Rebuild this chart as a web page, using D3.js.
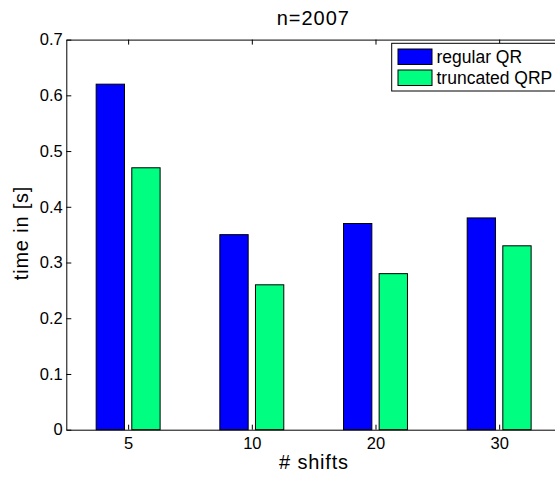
<!DOCTYPE html>
<html><head><meta charset="utf-8">
<script src="https://cdn.jsdelivr.net/npm/d3@7"></script>
<style>body{margin:0;background:#fff}svg{display:block;font-family:"Liberation Sans",Arial,sans-serif}</style>
</head><body><svg id="c" width="555" height="479"></svg>
<script>
const categories = ["5","10","20","30"];
const seriesNames = ["regular QR","truncated QRP"];
const regularQR = [0.62,0.35,0.37,0.38];
const truncatedQRP = [0.47,0.26,0.28,0.33];
const yTicks = [0,0.1,0.2,0.3,0.4,0.5,0.6,0.7];
const colors = ["#0000ff","#00ff80"];

const svg = d3.select("#c");
const L=66.3, R=561, T=39.6, B=429.7;
const x = d3.scaleLinear().domain([0.5,4.5]).range([L,R]);
const y = d3.scaleLinear().domain([0,0.7]).range([B,T]);
const series=[regularQR,truncatedQRP];
const off=[-0.144,0.144], bw=0.229;

series.forEach((vals,s)=>{
  svg.append("g").selectAll("rect").data(vals).join("rect")
    .attr("x",(d,i)=>x(i+1+off[s]-bw/2))
    .attr("width",x(bw)-x(0))
    .attr("y",d=>y(d)).attr("height",d=>y(0)-y(d))
    .attr("fill",colors[s]).attr("stroke","#000").attr("stroke-width",1);
});

const fmt=d=>d===0?"0":d3.format(".1f")(d);
const xa=svg.append("g").attr("transform",`translate(0,${B})`)
  .call(d3.axisBottom(x).tickValues([1,2,3,4]).tickFormat((d,i)=>categories[i]).tickSizeInner(-5).tickSizeOuter(0).tickPadding(7.5));
const xt=svg.append("g").attr("transform",`translate(0,${T})`)
  .call(d3.axisTop(x).tickValues([1,2,3,4]).tickFormat("").tickSizeInner(-5).tickSizeOuter(0));
const ya=svg.append("g").attr("transform",`translate(${L},0)`)
  .call(d3.axisLeft(y).tickValues(yTicks).tickFormat(fmt).tickSizeInner(-5).tickSizeOuter(0).tickPadding(3.5));
[xa,xt,ya].forEach(g=>{g.selectAll("path").attr("stroke","#000");g.selectAll("line").attr("stroke","#000");
  g.selectAll("text").attr("font-size",16.5).attr("fill","#000").attr("font-family","Liberation Sans, Arial, sans-serif");});

svg.append("text").attr("x",313.3).attr("y",25).attr("text-anchor","middle").attr("font-size",20).attr("letter-spacing",1).text("n=2007");
svg.append("text").attr("x",314).attr("y",469).attr("text-anchor","middle").attr("font-size",20).attr("letter-spacing",0.8).text("# shifts");
svg.append("text").attr("transform",`translate(28,233) rotate(-90)`).attr("text-anchor","middle").attr("font-size",20).attr("letter-spacing",0.8).text("time in [s]");

const lg=svg.append("g");
lg.append("rect").attr("x",391.7).attr("y",43.3).attr("width",200).attr("height",47.7).attr("fill","#fff").attr("stroke","#000");
seriesNames.forEach((n,i)=>{
  lg.append("rect").attr("x",398).attr("y",49+i*21).attr("width",34).attr("height",15.5).attr("fill",colors[i]).attr("stroke","#000");
  lg.append("text").attr("x",436.5).attr("y",62.5+i*21).attr("font-size",17.5).text(n);
});
</script></body></html>
